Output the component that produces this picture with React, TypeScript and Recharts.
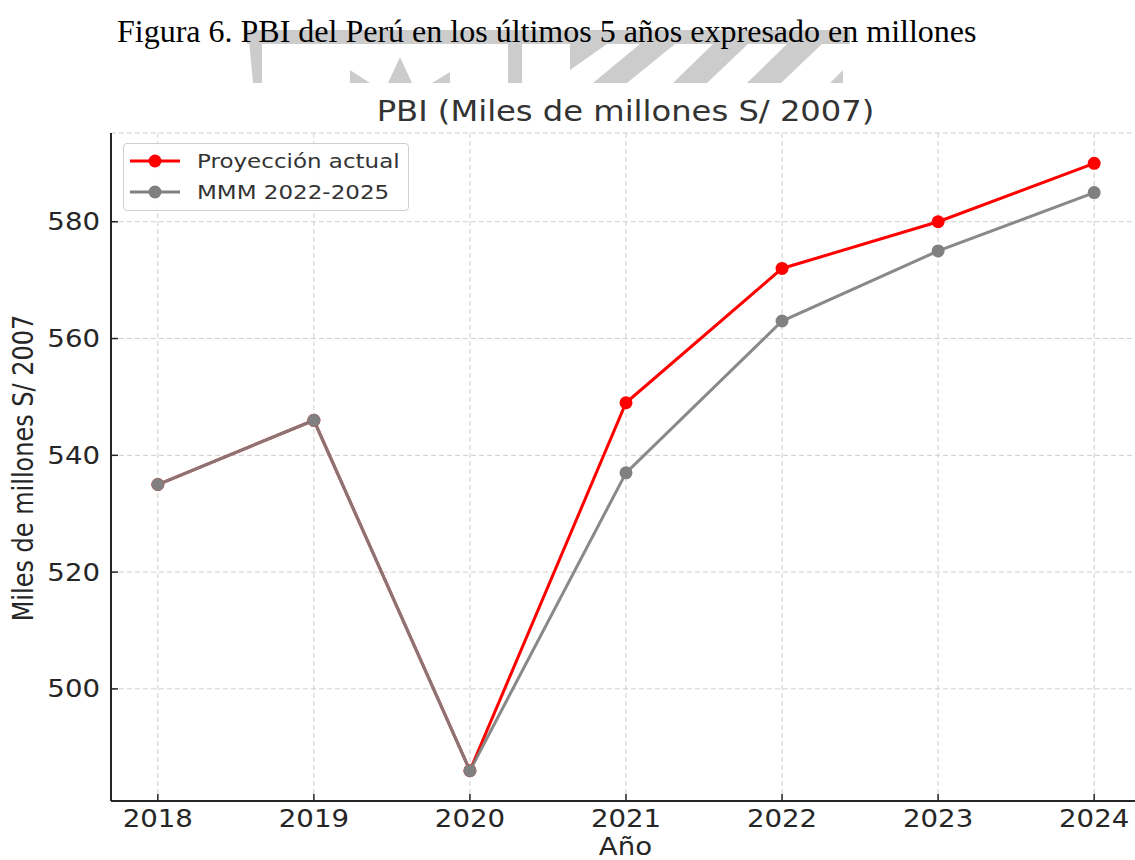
import React from 'react';
import { LineChart, Line, XAxis, YAxis, CartesianGrid, Legend } from 'recharts';

const years = [2018, 2019, 2020, 2021, 2022, 2023, 2024];
const proyeccionActual = [535, 546, 486, 549, 572, 580, 590];
const mmm20222025 = [535, 546, 486, 537, 563, 575, 585];
const yTicks = [500, 520, 540, 560, 580];
const xTicks = years;
const seriesNames = ['Proyección actual', 'MMM 2022-2025'];

const data = years.map((y, i) => ({ year: y, proy: proyeccionActual[i], mmm: mmm20222025[i] }));

const FONT = "'DejaVu Sans', sans-serif";
const TXT = '#262626';
const SX = 1.15;

const XTick = (props: any) => {
  const { x, y, payload } = props;
  return (
    <g>
      <line x1={x} y1={y} x2={x} y2={y - 7} stroke={TXT} strokeWidth={1.5} />
      <text transform={`translate(${x},${y + 26}) scale(${SX},1)`} textAnchor="middle" fontSize={24} fill={TXT} fontFamily={FONT}>
        {payload.value}
      </text>
    </g>
  );
};

const YTick = (props: any) => {
  const { x, y, payload } = props;
  return (
    <g>
      <line x1={x} y1={y} x2={x + 7} y2={y} stroke={TXT} strokeWidth={1.5} />
      <text transform={`translate(${x - 11},${y + 8.5}) scale(${SX},1)`} textAnchor="end" fontSize={24} fill={TXT} fontFamily={FONT}>
        {payload.value}
      </text>
    </g>
  );
};

const legendColors = ['#ff0000', '#808080'];

const renderLegend = () => (
  <div
    style={{
      width: 286,
      height: 68,
      boxSizing: 'border-box',
      border: '1px solid #d0d0d0',
      borderRadius: 4,
      background: 'rgba(255,255,255,0.85)',
      position: 'relative',
    }}
  >
    <svg width={286} height={68} style={{ position: 'absolute', left: -1, top: -1 }}>
      {seriesNames.map((n, i) => {
        const cy = i === 0 ? 18 : 49;
        const by = i === 0 ? 25 : 56;
        return (
          <g key={n}>
            <line x1={7} y1={cy} x2={57} y2={cy} stroke={legendColors[i]} strokeWidth={3} />
            <circle cx={32} cy={cy} r={6.5} fill={legendColors[i]} />
            <text transform={`translate(74,${by}) scale(${SX},1)`} fontSize={20} fill="#333" fontFamily={FONT}>
              {n}
            </text>
          </g>
        );
      })}
    </svg>
  </div>
);

export default function App() {
  return (
    <div style={{ position: 'absolute', left: 0, top: 0, width: 1135, height: 860, overflow: 'hidden', background: '#fff' }}>
      <LineChart width={1150} height={860} data={data} margin={{ top: 133, right: 9, bottom: 29, left: 51 }}>
        <CartesianGrid stroke="#cfcfcf" strokeDasharray="5 3" strokeWidth={1} />
        <XAxis
          dataKey="year"
          type="number"
          domain={[2017.7, 2024.3]}
          ticks={xTicks}
          allowDataOverflow
          height={30}
          tickSize={0}
          tickMargin={0}
          tickLine={false}
          axisLine={{ stroke: TXT, strokeWidth: 2 }}
          tick={<XTick />}
          interval={0}
        />
        <YAxis
          type="number"
          domain={[480.8, 595.2]}
          ticks={yTicks}
          allowDataOverflow
          width={60}
          tickSize={0}
          tickMargin={0}
          tickLine={false}
          axisLine={{ stroke: TXT, strokeWidth: 2 }}
          tick={<YTick />}
          interval={0}
        />
        <Legend
          layout="horizontal"
          verticalAlign="middle"
          align="center"
          content={renderLegend}
          wrapperStyle={{ position: 'absolute', left: 123, top: 143, width: 286, height: 68 }}
        />
        <Line
          type="linear"
          dataKey="proy"
          name={seriesNames[0]}
          stroke="#ff0000"
          strokeWidth={3}
          dot={{ r: 6.5, fill: '#ff0000', stroke: '#ff0000', strokeWidth: 0 }}
          activeDot={false}
          isAnimationActive={false}
        />
        <Line
          type="linear"
          dataKey="mmm"
          name={seriesNames[1]}
          stroke="#808080"
          strokeOpacity={0.93}
          strokeWidth={3}
          dot={{ r: 6.5, fill: '#808080', stroke: '#808080', strokeWidth: 0 }}
          activeDot={false}
          isAnimationActive={false}
        />
      </LineChart>
      <svg width={1135} height={860} style={{ position: 'absolute', left: 0, top: 0, pointerEvents: 'none' }}>
        <g fill="#cccccc">
          <rect x={247} y={30} width={603} height={14} />
          <polygon points="248,30 262,30 262,83 253,83" />
          <polygon points="350,70 370,83 350,83" />
          <polygon points="400,57 412,83 388,83" />
          <polygon points="450,72 450,83 432,83" />
          <rect x={508} y={30} width={14} height={53} />
          <polygon points="570,44 607,44 570,70" />
          <polygon points="640,44 675,44 627,83 593,83" />
          <polygon points="713,44 748,44 707,83 673,83" />
          <polygon points="787,44 822,44 781,83 747,83" />
          <polygon points="843,70 843,83 830,83" />
        </g>
        <text x={117} y={42} fontFamily="'Liberation Serif', 'Times New Roman', serif" fontSize={32} fill="#000">
          Figura 6. PBI del Perú en los últimos 5 años expresado en millones
        </text>
        <text transform={`translate(625.5,121) scale(${SX},1)`} textAnchor="middle" fontFamily={FONT} fontSize={28} fill="#333">
          PBI (Miles de millones S/ 2007)
        </text>
        <text transform={`translate(625.5,855) scale(${SX},1)`} textAnchor="middle" fontFamily={FONT} fontSize={24} fill={TXT}>
          Año
        </text>
        <text transform={`translate(33,468) rotate(-90) scale(1,${SX})`} textAnchor="middle" fontFamily={FONT} fontSize={24} fill={TXT}>
          Miles de millones S/ 2007
        </text>
      </svg>
    </div>
  );
}
